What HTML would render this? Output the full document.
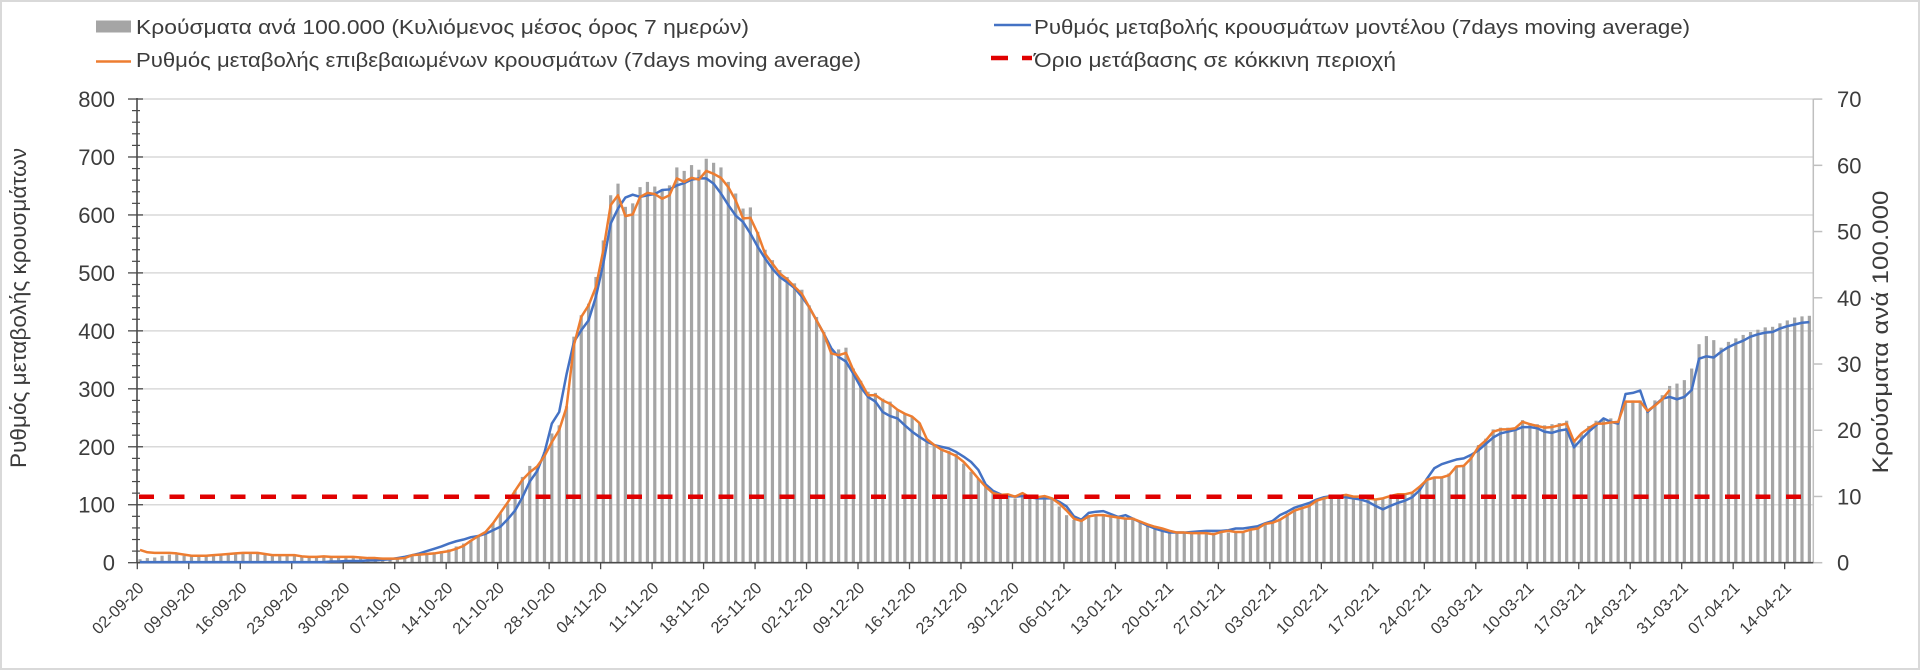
<!DOCTYPE html>
<html>
<head>
<meta charset="utf-8">
<style>
  html,body{margin:0;padding:0;background:#fff;}
  body{width:1920px;height:670px;overflow:hidden;}
  svg{display:block;}
  text{font-family:"Liberation Sans","DejaVu Sans",sans-serif;fill:#3c3c3c;}
  .tl{font-size:22px;}
  .xl{font-size:16.3px;}
  .lg{font-size:20.5px;}
  .at{font-size:22px;}
</style>
</head>
<body>
<svg id="c" width="1920" height="670" viewBox="0 0 1920 670" xmlns="http://www.w3.org/2000/svg">
  <rect x="1" y="1" width="1918" height="668" fill="#fff" stroke="#d9d9d9" stroke-width="2"/>
  <g id="grid"></g>
  <g id="bars"></g>
  <g id="axes"></g>
  <g id="lines"></g>

  <!-- Legend -->
  <rect x="96" y="20.5" width="35" height="12" fill="#a5a5a5"/>
  <text class="lg" x="136" y="34" textLength="613" lengthAdjust="spacingAndGlyphs">Κρούσματα ανά 100.000 (Κυλιόμενος μέσος όρος 7 ημερών)</text>
  <line x1="96" y1="61.5" x2="131" y2="61.5" stroke="#ed7d31" stroke-width="2.5"/>
  <text class="lg" x="136" y="67" textLength="725" lengthAdjust="spacingAndGlyphs">Ρυθμός μεταβολής επιβεβαιωμένων κρουσμάτων (7days moving average)</text>
  <line x1="994" y1="25" x2="1031" y2="25" stroke="#4472c4" stroke-width="2.5"/>
  <text class="lg" x="1034" y="34" textLength="656" lengthAdjust="spacingAndGlyphs">Ρυθμός μεταβολής κρουσμάτων μοντέλου (7days moving average)</text>
  <line x1="991" y1="58" x2="1008" y2="58" stroke="#e00000" stroke-width="4.5"/>
  <line x1="1022" y1="58" x2="1032" y2="58" stroke="#e00000" stroke-width="4.5"/>
  <text class="lg" x="1034" y="67" textLength="362" lengthAdjust="spacingAndGlyphs">Όριο μετάβασης σε κόκκινη περιοχή</text>

  <!-- Axis titles -->
  <text class="at" transform="translate(26,308) rotate(-90)" text-anchor="middle" textLength="320" lengthAdjust="spacingAndGlyphs">Ρυθμός μεταβολής κρουσμάτων</text>
  <text class="at" transform="translate(1888,332) rotate(-90)" text-anchor="middle" textLength="283" lengthAdjust="spacingAndGlyphs">Κρούσματα ανά 100.000</text>

  <!-- Left tick labels -->
  <g class="tl" text-anchor="end">
    <text x="115" y="570.7">0</text>
    <text x="115" y="512.7">100</text>
    <text x="115" y="454.8">200</text>
    <text x="115" y="396.8">300</text>
    <text x="115" y="338.9">400</text>
    <text x="115" y="280.9">500</text>
    <text x="115" y="222.9">600</text>
    <text x="115" y="165.0">700</text>
    <text x="115" y="107.0">800</text>
  </g>
  <!-- Right tick labels -->
  <g class="tl">
    <text x="1837" y="570.7">0</text>
    <text x="1837" y="504.5">10</text>
    <text x="1837" y="438.2">20</text>
    <text x="1837" y="372.0">30</text>
    <text x="1837" y="305.8">40</text>
    <text x="1837" y="239.5">50</text>
    <text x="1837" y="173.3">60</text>
    <text x="1837" y="107.0">70</text>
  </g>
  <!-- X labels -->
  <g class="xl" text-anchor="end">
    <text transform="translate(144.8,589) rotate(-45)">02-09-20</text>
    <text transform="translate(196.3,589) rotate(-45)">09-09-20</text>
    <text transform="translate(247.8,589) rotate(-45)">16-09-20</text>
    <text transform="translate(299.2,589) rotate(-45)">23-09-20</text>
    <text transform="translate(350.7,589) rotate(-45)">30-09-20</text>
    <text transform="translate(402.2,589) rotate(-45)">07-10-20</text>
    <text transform="translate(453.7,589) rotate(-45)">14-10-20</text>
    <text transform="translate(505.2,589) rotate(-45)">21-10-20</text>
    <text transform="translate(556.6,589) rotate(-45)">28-10-20</text>
    <text transform="translate(608.1,589) rotate(-45)">04-11-20</text>
    <text transform="translate(659.6,589) rotate(-45)">11-11-20</text>
    <text transform="translate(711.1,589) rotate(-45)">18-11-20</text>
    <text transform="translate(762.6,589) rotate(-45)">25-11-20</text>
    <text transform="translate(814.0,589) rotate(-45)">02-12-20</text>
    <text transform="translate(865.5,589) rotate(-45)">09-12-20</text>
    <text transform="translate(917.0,589) rotate(-45)">16-12-20</text>
    <text transform="translate(968.5,589) rotate(-45)">23-12-20</text>
    <text transform="translate(1020.0,589) rotate(-45)">30-12-20</text>
    <text transform="translate(1071.4,589) rotate(-45)">06-01-21</text>
    <text transform="translate(1122.9,589) rotate(-45)">13-01-21</text>
    <text transform="translate(1174.4,589) rotate(-45)">20-01-21</text>
    <text transform="translate(1225.9,589) rotate(-45)">27-01-21</text>
    <text transform="translate(1277.4,589) rotate(-45)">03-02-21</text>
    <text transform="translate(1328.8,589) rotate(-45)">10-02-21</text>
    <text transform="translate(1380.3,589) rotate(-45)">17-02-21</text>
    <text transform="translate(1431.8,589) rotate(-45)">24-02-21</text>
    <text transform="translate(1483.3,589) rotate(-45)">03-03-21</text>
    <text transform="translate(1534.8,589) rotate(-45)">10-03-21</text>
    <text transform="translate(1586.2,589) rotate(-45)">17-03-21</text>
    <text transform="translate(1637.7,589) rotate(-45)">24-03-21</text>
    <text transform="translate(1689.2,589) rotate(-45)">31-03-21</text>
    <text transform="translate(1740.7,589) rotate(-45)">07-04-21</text>
    <text transform="translate(1792.2,589) rotate(-45)">14-04-21</text>
  </g>
</svg>
<script>
(function(){
  var NS="http://www.w3.org/2000/svg";
  function el(tag,attrs,parent){var e=document.createElementNS(NS,tag);for(var k in attrs)e.setAttribute(k,attrs[k]);parent.appendChild(e);return e;}
  var Y0=562.7, K=0.5796, X0=140, DX=7.354, AXL=137, AXR=1813.3;
  function Y(v){return Y0-v*K;}
  function X(i){return X0+DX*i;}
  var grid=document.getElementById('grid'), bars=document.getElementById('bars'),
      axes=document.getElementById('axes'), lines=document.getElementById('lines');
  // gridlines
  for(var g=1; g<=8; g++){
    var y=Y(g*100);
    el('line',{x1:AXL,y1:y,x2:AXR,y2:y,stroke:'#d9d9d9','stroke-width':1.5},grid);
  }
  var orange=[22,18,17,17,17,16,14,12,12,12,13,14,15,16,17,17,17,15,13,13,13,13,11,10,10,11,10,10,10,10,9,8,8,7,7,7,8,13,14,15,16,18,20,24,29,38,46,53,68,86,104,124,143,156,166,184,208,229,268,375,424,444,476,539,617,634,598,601,631,638,636,628,634,663,657,664,661,676,671,664,648,625,594,595,568,533,516,499,489,476,464,441,418,395,361,358,362,332,312,289,289,280,274,264,257,252,241,213,203,195,190,184,174,160,145,131,120,117,118,114,120,113,113,115,111,102,90,76,72,80,82,82,80,78,76,76,71,66,62,59,55,52,52,51,51,51,49,53,55,53,53,57,59,67,69,74,82,90,94,98,107,111,114,115,117,114,114,111,109,111,115,118,118,121,131,143,147,147,151,166,167,180,200,211,226,230,230,232,243,239,236,233,234,237,240,209,223,232,240,240,242,243,278,278,278,262,271,282,298];
  var blue=[1,1,1,1,1,1,1,1,1,1,1,1,1,1,1,1,1,1,1,1,1,1,1,1,1,1,2,2,3,3,3,4,4,5,6,8,10,13,16,20,24,28,33,37,40,44,46,50,56,62,75,90,113,140,158,190,240,260,325,381,401,418,459,516,585,611,630,635,631,634,636,643,644,651,655,661,663,663,654,637,617,599,588,568,545,525,507,493,484,474,459,441,418,395,370,355,347,326,303,286,278,260,253,249,237,226,217,209,203,200,197,191,183,174,160,135,124,118,115,114,115,113,111,111,111,105,97,80,74,86,88,89,84,79,82,76,70,64,59,55,52,52,52,53,54,55,55,55,56,59,59,61,63,68,72,82,88,95,99,103,109,113,115,114,113,111,109,105,98,92,98,103,107,113,125,145,163,170,174,178,180,186,194,205,216,223,226,229,234,234,232,226,224,228,230,199,213,226,237,249,243,240,291,293,297,260,272,283,286,282,286,298,352,356,354,364,372,378,383,390,394,397,398,404,408,411,414,415];
  var bar=[6,8,9,12,14,14,12,11,11,11,12,13,14,15,16,16,16,14,12,12,12,12,10,9,9,10,9,9,9,9,8,7,7,6,6,6,9,12,13,14,17,20,23,28,33,39,45,53,68,85,102,125,148,167,165,191,223,237,270,390,427,447,493,556,634,654,614,620,648,657,649,644,651,682,676,686,678,697,690,682,657,637,611,613,571,540,522,505,493,482,471,444,424,398,367,368,371,335,314,295,293,283,278,263,257,252,241,211,203,197,193,188,171,157,145,131,120,116,113,111,113,111,111,109,109,97,82,74,76,82,82,82,78,78,78,78,71,65,61,56,52,52,52,52,52,52,52,52,52,52,52,57,61,68,71,76,85,92,97,102,108,113,117,117,118,115,114,113,109,111,114,117,120,122,131,145,148,149,154,167,168,183,203,214,230,233,233,233,246,241,239,237,239,241,245,211,223,236,245,247,249,243,280,280,280,263,280,289,305,309,315,335,377,391,384,371,381,387,393,398,402,406,407,413,418,423,425,426];
  // bars
  for(var i=0;i<bar.length;i++){
    var y=Y(bar[i]);
    el('rect',{x:(X(i)-1.6).toFixed(2),y:y.toFixed(2),width:3.2,height:(Y0-y).toFixed(2),fill:'#a5a5a5'},bars);
  }
  // axes
  el('line',{x1:AXR,y1:Y(800),x2:AXR,y2:Y0,stroke:'#bfbfbf','stroke-width':1.5},axes);
  for(var r=0;r<=7;r++){var yy=Y0-r*66.23; el('line',{x1:AXR,y1:yy,x2:AXR+9,y2:yy,stroke:'#bfbfbf','stroke-width':1.5},axes);}
  el('line',{x1:AXL,y1:Y(800)-1,x2:AXL,y2:Y0,stroke:'#4a4a4a','stroke-width':1.6},axes);
  el('line',{x1:AXL,y1:Y0,x2:AXR,y2:Y0,stroke:'#4a4a4a','stroke-width':1.6},axes);
  for(var t=0;t<=40;t++){
    var yt=Y(t*20);
    if(t%5===0) el('line',{x1:128,y1:yt,x2:143,y2:yt,stroke:'#4a4a4a','stroke-width':1.3},axes);
    else el('line',{x1:132,y1:yt,x2:140,y2:yt,stroke:'#4a4a4a','stroke-width':1.2},axes);
  }
  for(var w=0;w<=32;w++){
    var xt=137.3+51.48*w;
    el('line',{x1:xt,y1:Y0,x2:xt,y2:Y0+6.5,stroke:'#4a4a4a','stroke-width':1.3},axes);
  }
  function path(arr,color){
    var d='';
    for(var i=0;i<arr.length;i++){d+=(i?'L':'M')+X(i).toFixed(2)+' '+Y(arr[i]).toFixed(2);}
    el('path',{d:d,fill:'none',stroke:color,'stroke-width':2.5,'stroke-linejoin':'round'},lines);
  }
  path(blue,'#4472c4');
  path(orange,'#ed7d31');
  el('line',{x1:139,y1:496.7,x2:1802,y2:496.7,stroke:'#e00000','stroke-width':4.5,'stroke-dasharray':'15 15.5'},lines);
})();
</script>
</body>
</html>
